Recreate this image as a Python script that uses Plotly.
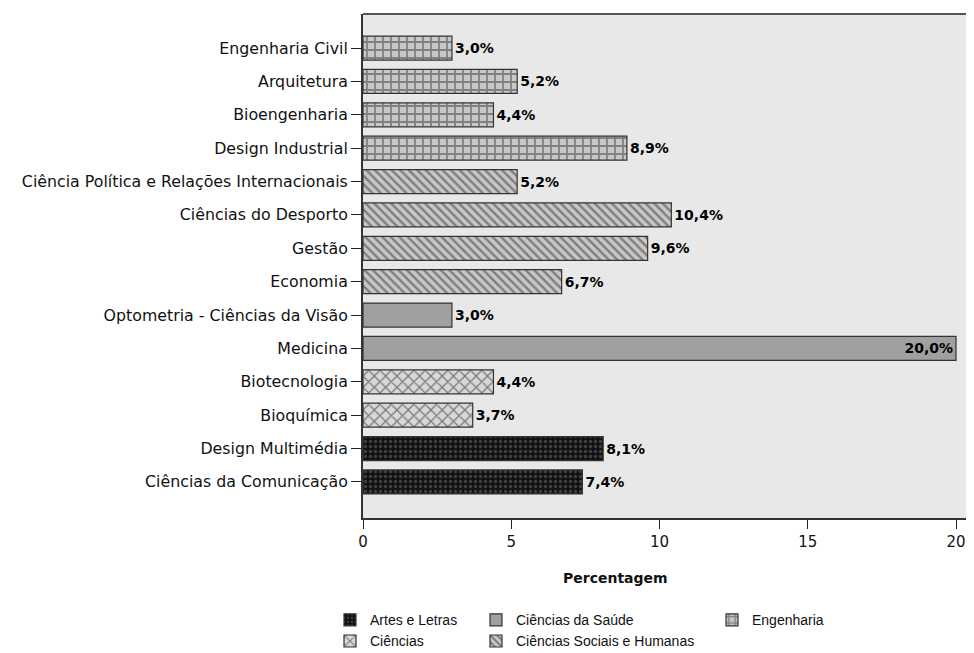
import plotly.graph_objects as go

categories = ["Engenharia Civil", "Arquitetura", "Bioengenharia", "Design Industrial",
              "Ciência Política e Relações Internacionais", "Ciências do Desporto", "Gestão",
              "Economia", "Optometria - Ciências da Visão", "Medicina", "Biotecnologia",
              "Bioquímica", "Design Multimédia", "Ciências da Comunicação"]
values = [3.0, 5.2, 4.4, 8.9, 5.2, 10.4, 9.6, 6.7, 3.0, 20.0, 4.4, 3.7, 8.1, 7.4]
groups = ["Engenharia", "Engenharia", "Engenharia", "Engenharia",
          "Ciências Sociais e Humanas", "Ciências Sociais e Humanas", "Ciências Sociais e Humanas",
          "Ciências Sociais e Humanas", "Ciências da Saúde", "Ciências da Saúde",
          "Ciências", "Ciências", "Artes e Letras", "Artes e Letras"]
group_order = ["Artes e Letras", "Ciências", "Ciências da Saúde", "Ciências Sociais e Humanas", "Engenharia"]
x_ticks = [0, 5, 10, 15, 20]
x_title = "Percentagem"

styles = {
    "Artes e Letras": dict(color="#111111", pattern=dict(shape=".", bgcolor="#111111", fgcolor="#707070", size=5, solidity=0.35), legend="legend"),
    "Ciências": dict(color="#d8d8d8", pattern=dict(shape="x", bgcolor="#d8d8d8", fgcolor="#1a1a1a", size=8, solidity=0.3), legend="legend"),
    "Ciências da Saúde": dict(color="#a0a0a0", pattern=dict(shape=""), legend="legend2"),
    "Ciências Sociais e Humanas": dict(color="#c8c8c8", pattern=dict(shape="\\", bgcolor="#c8c8c8", fgcolor="#333333", size=6, solidity=0.4), legend="legend2"),
    "Engenharia": dict(color="#c4c4c4", pattern=dict(shape="+", bgcolor="#c8c8c8", fgcolor="#3a3a3a", size=8, solidity=0.4), legend="legend3"),
}

fig = go.Figure()
for g in group_order:
    idx = [i for i, gg in enumerate(groups) if gg == g]
    xs = [values[i] for i in idx]
    ys = [categories[i] for i in idx]
    s = styles[g]
    fig.add_trace(go.Bar(
        x=xs, y=ys, orientation="h", name=g, legend=s["legend"],
        marker=dict(color=s["color"], pattern=s["pattern"], line=dict(color="#333333", width=1.2)),
        width=0.72,
        text=[f"{v:.1f}%".replace(".", ",") for v in xs],
        textposition=["inside" if v >= 19 else "outside" for v in xs],
        insidetextanchor="end",
        textfont=dict(family="DejaVu Sans", size=14, color="black", weight="bold"),
        cliponaxis=False,
    ))

leg_common = dict(xanchor="left", yanchor="top", xref="container", yref="container",
                  orientation="v", tracegroupgap=0,
                  font=dict(family="Liberation Sans, Arial", size=14, color="#111111"),
                  bgcolor="rgba(0,0,0,0)", itemwidth=30)

plot_w = 974 - 355
x_max = 20 * plot_w / (955 - 362)

fig.update_layout(
    width=974, height=653,
    paper_bgcolor="white", plot_bgcolor="#e8e8e8",
    margin=dict(l=355, r=0, t=6, b=143, autoexpand=False),
    barmode="overlay",
    font=dict(family="DejaVu Sans", size=15.8, color="#111111"),
    xaxis=dict(range=[0, x_max], tickvals=x_ticks, ticks="outside", ticklen=9, tickcolor="#222222",
               showgrid=False, zeroline=False, showline=True, linecolor="#333333", linewidth=2,
               tickfont=dict(size=15), automargin=False),
    yaxis=dict(categoryorder="array", categoryarray=categories, range=[14.08, -1.02],
               ticks="outside", ticklen=10, tickcolor="#222222", showgrid=False, zeroline=False,
               showline=True, linecolor="#333333", linewidth=2, tickfont=dict(size=15.8),
               automargin=False),
    shapes=[dict(type="line", xref="paper", yref="paper", x0=0, x1=1, y0=1, y1=1,
                 line=dict(color="#555555", width=2))],
    annotations=[dict(text=f"<b>{x_title}</b>", xref="paper", yref="paper",
                      x=(614 - 362) / plot_w, y=-60 / 504, xanchor="center", yanchor="middle",
                      showarrow=False, font=dict(family="DejaVu Sans", size=14, color="#111111"))],
    legend=dict(x=322/974, y=0.087, **leg_common),
    legend2=dict(x=468/974, y=0.087, **leg_common),
    legend3=dict(x=704/974, y=0.087, **leg_common),
    showlegend=True,
)
fig.write_html("out.html")
